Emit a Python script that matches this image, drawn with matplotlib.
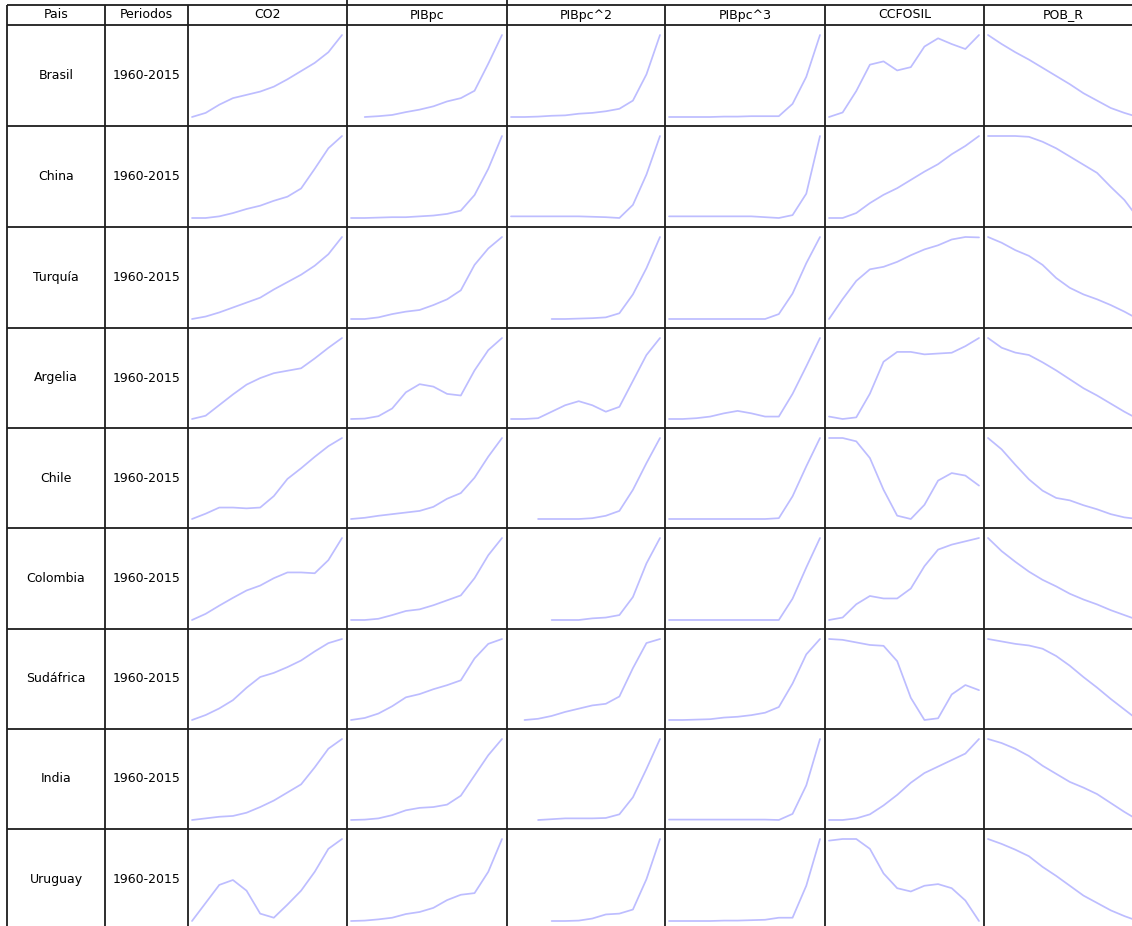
import numpy as np
import matplotlib
matplotlib.use("Agg")
import matplotlib.pyplot as plt

nan = np.nan

# sparkline table: one row per country, one sparkline per variable
countries = ["Brasil", "China", "Turquía", "Argelia", "Chile",
             "Colombia", "Sudáfrica", "India", "Uruguay"]
periods = ["1960-2015"] * len(countries)
headers = ["Pais", "Periodos", "CO2", "PIBpc", "PIBpc^2", "PIBpc^3", "CCFOSIL", "POB_R"]
years = [1960, 1965, 1970, 1975, 1980, 1985, 1990, 1995, 2000, 2005, 2010, 2015]

# values (relative scale, each line min..max)
co2 = [
    [0, 5, 15, 23, 27, 31, 37, 46, 56, 66, 79, 100],
    [0, 0, 2, 6, 11, 15, 21, 26, 36, 60, 85, 100],
    [0, 3, 8, 14, 20, 26, 36, 45, 54, 65, 79, 100],
    [1, 5, 18, 31, 43, 51, 57, 60, 63, 75, 88, 100],
    [1, 7.5, 15, 15, 14, 15, 29, 50, 63, 77, 90, 100],
    [0, 7.5, 17.5, 27, 36, 42, 51, 58, 58, 57, 73, 100],
    [2, 8, 16, 26, 41, 54, 59, 66, 74, 85, 95, 100],
    [0, 2, 4, 5, 9, 16, 24, 34, 44, 65, 88, 100],
    [0, 22, 44, 50, 37, 9, 4, 20, 37, 60, 88, 100],
]
pibpc = [
    [nan, 0, 1, 2.5, 6, 9, 13, 19, 23, 32, 65, 100],
    [0, 0, 0.5, 1, 1, 2, 3, 5, 9, 28, 60, 100],
    [0, 0, 2, 6, 9, 11, 17, 24, 35, 66, 86, 100],
    [0, 0.5, 3.5, 13, 33, 43, 40, 31, 29, 60, 85, 100],
    [0, 1.5, 4, 6, 8, 10, 15, 25, 32, 51, 77, 100],
    [0, 0, 1.5, 6, 11, 13, 18, 24, 30, 51, 79, 100],
    [0, 2.5, 8, 17, 28, 32, 38, 43, 49, 76, 94, 100],
    [0, 0.5, 2, 6, 12, 15, 16, 19, 30, 55, 80, 100],
    [0, 0.5, 2, 4, 8.5, 11, 16, 25.5, 32, 34, 60, 100],
]
pibpc2 = [
    [0, 0, 0.5, 1.5, 2, 4, 5, 7, 10, 20, 52, 100],
    [2, 2, 2, 2, 2, 2, 1.5, 1, 0, 16, 53, 100],
    [nan, nan, nan, 0, 0, 0.5, 1, 2, 7, 30, 62, 100],
    [0, 0, 1, 9, 17, 22, 17, 9, 15, 47, 79, 100],
    [nan, nan, 0, 0, 0, 0, 1, 4, 10, 36, 69, 100],
    [nan, nan, nan, 0, 0, 0, 2, 3, 6, 28, 69, 100],
    [nan, 0, 1.5, 5, 10, 14, 18, 20, 29, 64, 95, 100],
    [nan, nan, 0, 1, 2, 2, 2, 2.5, 7, 28, 63, 100],
    [nan, nan, nan, 0, 0, 0.5, 3, 8, 9, 14, 51, 100],
]
pibpc3 = [
    [0, 0, 0, 0, 0.5, 0.5, 1, 1, 1, 16, 49, 100],
    [2.5, 2.5, 2.5, 2.5, 2.5, 2.5, 2.5, 1.5, 0.5, 4, 30, 100],
    [0, 0, 0, 0, 0, 0, 0, 0, 6, 31, 68, 100],
    [0, 0, 1, 3, 7, 10, 7, 3, 3, 31, 65, 100],
    [0, 0, 0, 0, 0, 0, 0, 0, 1, 28, 65, 100],
    [0, 0, 0, 0, 0, 0, 0, 0, 0, 26, 64, 100],
    [0, 0, 0.5, 1, 3, 4, 6, 9, 16, 45, 81, 100],
    [1, 1, 1, 1, 1, 1, 1, 1, 0.5, 8, 43, 100],
    [0, 0, 0, 0, 0.5, 0.5, 1, 1.5, 4, 4, 43, 100],
]
ccfosil = [
    [0.5, 6, 32, 64, 68, 57, 61, 86, 96, 89, 83, 100],
    [1, 1, 7, 19, 29, 37, 47, 57, 66, 78, 88, 100],
    [1, 25, 47, 61, 64, 70, 78, 85, 90, 97, 100, 99.5],
    [4, 1, 3, 32, 71, 83, 83, 80, 81, 82, 90, 100],
    [100, 100, 96, 76, 38, 7, 3, 20, 49, 58, 55, 43],
    [1, 4, 20, 30, 27, 27, 39, 66, 86, 92, 96, 100],
    [100, 99, 96, 93, 92, 74, 31, 5, 7, 35, 46, 40],
    [0, 0, 2, 7, 18, 31, 46, 58, 66, 74, 82, 100],
    [98, 100, 100, 88, 58, 40, 36, 43, 45, 40, 25, 0],
]
pob_r = [
    [100, 89, 79, 70, 60, 50, 40, 29, 20, 11, 5, 0],
    [100, 100, 100, 99, 93, 85, 75, 65, 55, 38, 22, 0],
    [100, 93, 84, 77, 66, 50, 38, 30, 24, 17, 9, 0],
    [100, 88, 82, 79, 70, 60, 49, 38, 29, 19, 9, 0],
    [100, 86, 67, 49, 35, 26, 23, 17, 12, 6, 2, 0],
    [100, 84, 71, 59, 49, 41, 32, 25, 19, 12, 6, 0],
    [100, 97, 94, 92, 88, 79, 67, 53, 40, 26, 13, 0],
    [100, 95, 88, 79, 67, 57, 47, 40, 32, 21, 10, 0],
    [100, 94, 87, 79, 66, 55, 43, 31, 22, 13, 6, 0],
]
series = [co2, pibpc, pibpc2, pibpc3, ccfosil, pob_r]

# table geometry in pixels
W, H = 1132, 926
col_edges = [7, 105, 188, 347, 507, 665, 825, 984, 1143]
row_edges = [5, 25, 126, 227, 328, 428, 528, 629, 729, 829, 930]
grid_color = "#1e1e1e"
spark_color = "#bdbdff"

fig = plt.figure(figsize=(W / 100, H / 100), dpi=100)
tab = fig.add_axes([0, 0, 1, 1])
tab.set_xlim(0, W)
tab.set_ylim(H, 0)
tab.axis("off")

# grid
tab.vlines(col_edges, row_edges[0], row_edges[-1], color=grid_color, lw=1.3)
tab.hlines(row_edges, col_edges[0], col_edges[-1], color=grid_color, lw=1.3)
tab.vlines([347, 507], 0, row_edges[0], color=grid_color, lw=1.3)

font = dict(family="DejaVu Sans", fontsize=9, color="black", ha="center", va="center")

# header
for j, h in enumerate(headers):
    xc = (col_edges[j] + col_edges[j + 1]) / 2
    tab.text(xc, (row_edges[0] + row_edges[1]) / 2, h, **font)

# rows
for i, (c, p) in enumerate(zip(countries, periods)):
    yc = (row_edges[i + 1] + row_edges[i + 2]) / 2
    tab.text((col_edges[0] + col_edges[1]) / 2, yc, c, **font)
    tab.text((col_edges[1] + col_edges[2]) / 2, yc, p, **font)

    for j, var in enumerate(series):
        vals = np.array(var[i], dtype=float)
        x0 = col_edges[j + 2] + 4
        x1 = col_edges[j + 3] - 5
        y0 = row_edges[i + 1] + 10
        y1 = row_edges[i + 2] - 9
        ax = fig.add_axes([x0 / W, 1 - y1 / H, (x1 - x0) / W, (y1 - y0) / H])
        ax.plot(years, vals, color=spark_color, lw=1.25, clip_on=False,
                solid_joinstyle="round", solid_capstyle="round")
        ax.set_xlim(years[0], years[-1])
        ax.set_ylim(np.nanmin(vals), np.nanmax(vals))
        ax.axis("off")

fig.savefig("out.png", dpi=100)
